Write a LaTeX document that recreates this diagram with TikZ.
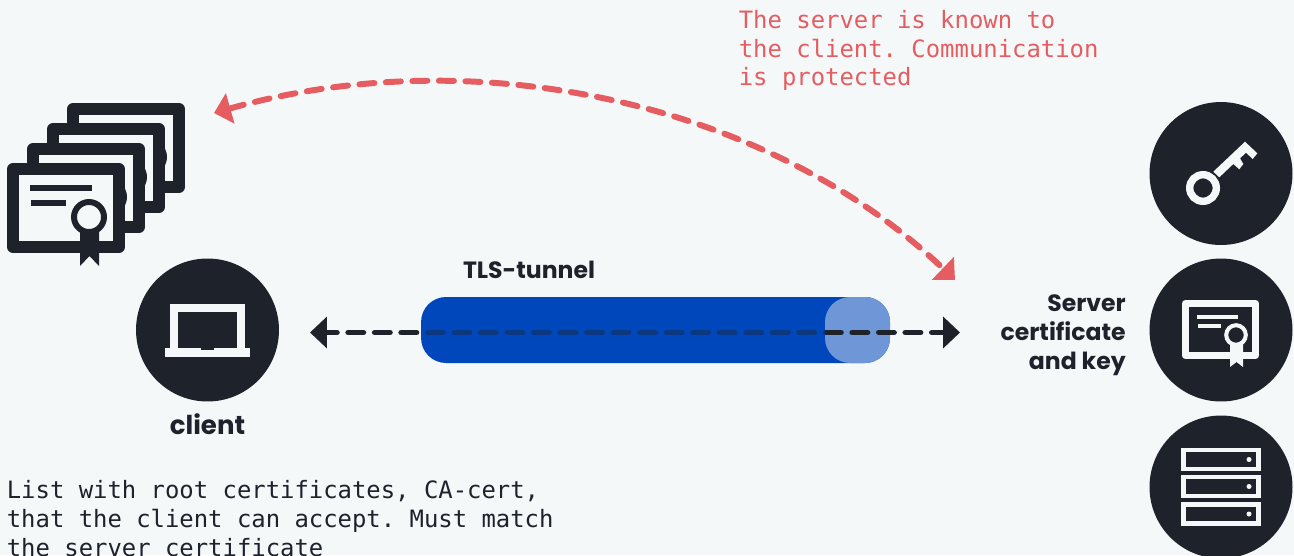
\documentclass[tikz,border=0pt]{standalone}
\usepackage{fontspec}
\setmainfont{Poppins}
\setmonofont{DejaVu Sans Mono}
\usetikzlibrary{arrows.meta}
\usetikzlibrary{positioning}
\definecolor{pagebg}{HTML}{F4F8F9}
\definecolor{inkdark}{HTML}{1E222B}
\definecolor{notered}{HTML}{E55D61}
\definecolor{tubeblue}{HTML}{0047BB}
\definecolor{tubecap}{HTML}{6F97D8}
\tikzset{
	disc/.style={circle,fill=inkdark,minimum size=2.86cm,inner sep=0pt},
	monotext/.style={font=\ttfamily\fontsize{13.6pt}{16.5pt}\selectfont,align=left,inner sep=0pt,anchor=north west},
	boldtext/.style={font=\bfseries\fontsize{13.4pt}{16.5pt}\selectfont,text=inkdark,inner sep=0pt},
	dashline/.style={line width=3.4pt,line cap=round,dash pattern=on 8.54pt off 6.56pt},
	bigtip/.style={{Triangle[length=9.6pt,width=17.5pt]}-{Triangle[length=9.6pt,width=17.5pt]}}
}
\begin{document}
\begin{tikzpicture}[x=0.02cm,y=-0.02cm]
	% page
	\useasboundingbox (0,0) rectangle (1294,555);
	\fill[pagebg] (0,0) rectangle (1294,555);

	% stack of root certificates
	\foreach \off in {60,40,20,0} {
		\begin{scope}[shift={(\off,-\off)}]
			\draw[inkdark,fill=pagebg,line width=6.8pt,line join=round] (13,169) rectangle (119,247);
			\fill[inkdark] (30,185) rectangle (92,191);
			\fill[inkdark] (31,200) rectangle (66,206);
			\fill[inkdark] (80,232) -- (99,232) -- (99,266) -- (89.5,256) -- (80,266) -- cycle;
			\filldraw[inkdark,fill=pagebg,line width=3.4pt] (89,217) circle (15);
		\end{scope}
	}

	% client
	\node (laptopdisc) [disc] at (207.5,330) {};
	\draw[pagebg,line width=4.5pt] (174,348) -- (174,308) -- (241,308) -- (241,348);
	\fill[pagebg] (164.5,348) rectangle (250,357);
	\fill[inkdark] (201,348) rectangle (214,350);
	\node (clientlabel) [boldtext,font=\bfseries\fontsize{14.8pt}{18pt}\selectfont,below=6.5pt of laptopdisc] {client};

	% tunnel
	\node (tube) [fill=tubeblue,rounded corners=0.5cm,minimum width=9.38cm,minimum height=1.32cm,inner sep=0pt] at (655.5,330) {};
	\node (tubeend) [fill=tubecap,rounded corners=0.5cm,minimum width=1.3cm,minimum height=1.32cm,inner sep=0pt] at (857.5,330) {};
	\node (tunnellabel) [boldtext] at (529,270) {TLS-tunnel};
	\coordinate (linkleft) at (310,332.5);
	\coordinate (linkright) at (960,332.5);
	\draw[bigtip,dashline,dash phase=2.3pt,inkdark] (linkleft) -- (linkright);
	\node (tubeveil) [fill=tubeblue,fill opacity=.6,minimum width=8.04cm,minimum height=0.4cm,inner sep=0pt] at (624,332.5) {};

	% known server
	\coordinate (rootend) at (214,113);
	\coordinate (serverend) at (955,280);
	\draw[bigtip,dashline,notered] (rootend) .. controls (482,37) and (775,107.5) .. (serverend);
	\node (knownnote) [monotext,text=notered] at (738.5,9.5) {The server is known to\\the client. Communication\\is protected};

	% key
	\node (keydisc) [disc] at (1221,173.5) {};
	\draw[pagebg,line width=4.2pt] (1203,188) circle (13.3);
	\fill[pagebg] (1245,141.7) -- (1257.3,153.3) -- (1252.7,159) -- (1246,152.7) -- (1240,158.3) -- (1243.3,164) -- (1239.3,169.3) -- (1233.3,164) -- (1219.3,177.3) -- (1213.3,171.7) -- cycle;

	% server certificate
	\node (certdisc) [disc] at (1221,330) {};
	\draw[pagebg,line width=4pt,line join=round] (1185.5,303.5) rectangle (1255.5,355.5);
	\fill[pagebg] (1197,315) rectangle (1238,319);
	\fill[pagebg] (1198,324) rectangle (1221,328);
	\fill[pagebg] (1230,340) -- (1243,340) -- (1243,367) -- (1236.5,362) -- (1230,367) -- cycle;
	\filldraw[pagebg,fill=inkdark,line width=2.3pt] (1236,335) circle (9.8);
	\node (certlabel) [boldtext,align=right,anchor=east] at (1126,335) {Server\\certificate\\and key};

	% server
	\node (rackdisc) [disc] at (1221,487) {};
	\foreach \rowy/\rowname in {459.5/a,486.5/b,514/c} {
		\node (rack\rowname) [draw=pagebg,line width=2.5pt,minimum width=1.5cm,minimum height=0.38cm,inner sep=0pt] at (1221,\rowy) {};
		\fill[pagebg] (1249,\rowy) circle (2.5);
	}

	% note on the list
	\node (listnote) [monotext,text=inkdark] at (6.5,480) {List with root certificates, CA-cert,\\that the client can accept. Must match\\the server certificate};
\end{tikzpicture}
\end{document}
